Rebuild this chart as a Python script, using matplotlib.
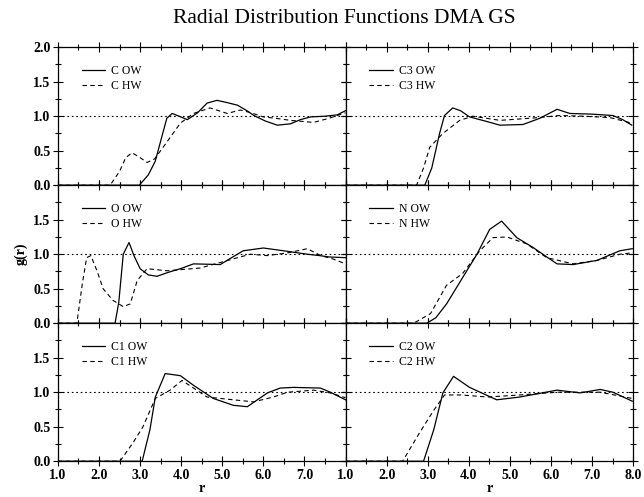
import numpy as np
import matplotlib
matplotlib.use('Agg')
import matplotlib.pyplot as plt
from matplotlib.ticker import MultipleLocator, FixedLocator

plt.rcParams['font.family'] = ['Liberation Serif', 'DejaVu Serif']

# ---- data: (r, g(r)) ----
c_ow_r = [1.0, 2.98, 3.2, 3.37, 3.55, 3.65, 3.78, 3.95, 4.15, 4.4, 4.63, 4.87, 5.1, 5.37, 5.6, 5.77, 6.05, 6.34, 6.66, 6.9, 7.15, 7.5, 7.8, 8.0]
c_ow_g = [0.0, 0.0, 0.15, 0.35, 0.75, 0.97, 1.04, 1.0, 0.95, 1.05, 1.19, 1.23, 1.2, 1.16, 1.08, 1.01, 0.93, 0.87, 0.89, 0.95, 0.99, 1.0, 1.02, 1.08]
c_hw_r = [1.0, 2.27, 2.5, 2.65, 2.8, 2.95, 3.17, 3.35, 3.56, 3.8, 3.98, 4.3, 4.7, 5.12, 5.44, 5.7, 6.0, 6.3, 6.66, 7.22, 7.6, 8.0]
c_hw_g = [0.0, 0.0, 0.2, 0.4, 0.47, 0.42, 0.33, 0.38, 0.55, 0.75, 0.9, 1.04, 1.12, 1.04, 1.09, 1.05, 0.99, 0.97, 0.94, 0.91, 0.97, 1.05]

c3_ow_r = [1.0, 2.93, 3.1, 3.29, 3.41, 3.61, 3.8, 4.02, 4.4, 4.76, 5.32, 5.73, 6.15, 6.46, 7.0, 7.51, 7.75, 7.97]
c3_ow_g = [0.0, 0.0, 0.25, 0.75, 1.01, 1.12, 1.08, 0.99, 0.93, 0.87, 0.88, 0.97, 1.10, 1.04, 1.03, 1.01, 0.95, 0.87]
c3_hw_r = [1.0, 2.73, 2.9, 3.05, 3.37, 3.78, 4.1, 4.76, 5.24, 5.7, 6.2, 6.8, 7.44, 7.97]
c3_hw_g = [0.0, 0.0, 0.25, 0.55, 0.75, 0.94, 1.0, 0.94, 0.96, 0.98, 1.01, 1.0, 0.98, 0.9]

o_ow_r = [1.0, 2.39, 2.48, 2.59, 2.73, 2.85, 3.0, 3.2, 3.41, 3.7, 3.98, 4.3, 4.95, 5.2, 5.51, 6.0, 6.49, 7.07, 7.37, 7.6, 8.0]
o_ow_g = [0.0, 0.0, 0.3, 1.0, 1.17, 0.98, 0.79, 0.7, 0.68, 0.74, 0.79, 0.86, 0.85, 0.94, 1.05, 1.09, 1.05, 1.0, 0.98, 0.96, 0.95]
o_hw_r = [1.0, 1.46, 1.6, 1.7, 1.8, 1.95, 2.1, 2.34, 2.59, 2.76, 2.93, 3.17, 3.66, 4.46, 4.95, 5.68, 6.1, 6.6, 7.07, 7.4, 7.7, 8.0]
o_hw_g = [0.0, 0.0, 0.6, 0.95, 0.98, 0.76, 0.5, 0.33, 0.24, 0.28, 0.62, 0.79, 0.76, 0.8, 0.88, 1.0, 0.98, 1.02, 1.08, 0.98, 0.93, 0.86]

n_ow_r = [1.0, 2.98, 3.2, 3.46, 3.85, 4.2, 4.51, 4.8, 5.17, 5.56, 5.9, 6.15, 6.54, 7.12, 7.68, 7.98]
n_ow_g = [0.0, 0.0, 0.08, 0.28, 0.66, 1.0, 1.36, 1.48, 1.24, 1.1, 0.96, 0.86, 0.85, 0.91, 1.05, 1.08]
n_hw_r = [1.0, 2.66, 3.07, 3.46, 3.85, 4.27, 4.59, 4.93, 5.41, 5.9, 6.54, 7.12, 7.68, 7.98]
n_hw_g = [0.0, 0.0, 0.14, 0.55, 0.72, 1.05, 1.24, 1.25, 1.15, 0.95, 0.86, 0.91, 1.0, 1.02]

c1_ow_r = [1.0, 3.05, 3.24, 3.37, 3.61, 3.98, 4.3, 4.78, 5.27, 5.61, 6.1, 6.41, 6.73, 7.39, 7.63, 8.0]
c1_ow_g = [0.0, 0.0, 0.46, 0.93, 1.27, 1.24, 1.1, 0.91, 0.81, 0.79, 0.99, 1.06, 1.07, 1.06, 1.0, 0.89]
c1_hw_r = [1.0, 2.51, 2.83, 3.07, 3.37, 3.73, 4.02, 4.3, 4.63, 5.27, 5.76, 6.24, 6.59, 7.22, 7.63, 8.0]
c1_hw_g = [0.0, 0.0, 0.27, 0.5, 0.91, 1.03, 1.17, 1.06, 0.93, 0.89, 0.86, 0.93, 1.0, 1.03, 0.99, 0.92]

c2_ow_r = [1.0, 2.9, 3.15, 3.37, 3.63, 4.02, 4.68, 5.24, 6.15, 6.71, 7.2, 7.51, 7.98]
c2_ow_g = [0.0, 0.0, 0.46, 0.99, 1.23, 1.07, 0.89, 0.93, 1.03, 0.99, 1.04, 1.0, 0.87]
c2_hw_r = [1.0, 2.39, 2.8, 3.15, 3.41, 3.83, 4.46, 5.24, 6.15, 7.2, 7.98]
c2_hw_g = [0.0, 0.0, 0.41, 0.74, 0.96, 0.96, 0.93, 0.96, 1.0, 1.0, 0.91]

panels = [
    ('C', c_ow_r, c_ow_g, c_hw_r, c_hw_g),
    ('C3', c3_ow_r, c3_ow_g, c3_hw_r, c3_hw_g),
    ('O', o_ow_r, o_ow_g, o_hw_r, o_hw_g),
    ('N', n_ow_r, n_ow_g, n_hw_r, n_hw_g),
    ('C1', c1_ow_r, c1_ow_g, c1_hw_r, c1_hw_g),
    ('C2', c2_ow_r, c2_ow_g, c2_hw_r, c2_hw_g),
]

fig, axes = plt.subplots(3, 2, figsize=(6.44, 4.97), dpi=100)
fig.subplots_adjust(left=0.090, right=0.983, top=0.905, bottom=0.072, wspace=0, hspace=0)

for k, (name, r1, g1, r2, g2) in enumerate(panels):
    row, col = k // 2, k % 2
    ax = axes[row, col]
    ax.plot(r1, g1, color='black', lw=0.9, label=name + ' OW')
    ax.plot(r2, g2, color='black', lw=0.8, ls=(0, (4, 3)), label=name + ' HW')
    ax.axhline(1.0, color='black', lw=0.8, ls=(0, (1.5, 2.5)))
    ax.set_xlim(1.0, 8.0)
    ax.set_ylim(0.0, 2.0)

    # x ticks: labels only on the bottom row, left column stops at 7.0
    ax.xaxis.set_minor_locator(MultipleLocator(0.5))
    xt = list(range(1, 9))
    ax.xaxis.set_major_locator(FixedLocator(xt))
    if row == 2:
        xl = ['%.1f' % t for t in xt]
        if col == 0:
            xl[-1] = ''
        ax.set_xticklabels(xl, fontweight='bold', fontsize=10)
    else:
        ax.tick_params(labelbottom=False)

    # y ticks: labels only on the left column, 2.0 only on the top row
    yt = [0.0, 0.5, 1.0, 1.5, 2.0]
    ax.yaxis.set_major_locator(FixedLocator(yt))
    ax.yaxis.set_minor_locator(MultipleLocator(0.25))
    if col == 0:
        yl = ['%.1f' % t for t in yt]
        if row > 0:
            yl[-1] = ''
        ax.set_yticklabels(yl, fontweight='bold', fontsize=10)
    else:
        ax.tick_params(labelleft=False)

    ax.tick_params(which='both', direction='inout', top=True, right=True, width=0.8)
    ax.tick_params(which='major', length=7, pad=2)
    ax.tick_params(which='minor', length=4)
    for s in ax.spines.values():
        s.set_linewidth(0.9)
    ax.legend(loc='upper left', frameon=False, fontsize=8.5, handlelength=2.0,
              handletextpad=0.5, labelspacing=0.3, borderaxespad=0.4,
              bbox_to_anchor=(0.05, 0.94))

axes[2, 0].set_xlabel('r', fontsize=10, fontweight='bold', labelpad=0)
axes[2, 1].set_xlabel('r', fontsize=10, fontweight='bold', labelpad=0)
axes[1, 0].set_ylabel('g(r)', fontsize=10, fontweight='bold', labelpad=4)

fig.suptitle('Radial Distribution Functions DMA GS', x=0.535, y=0.982, fontsize=15.5)

fig.savefig('out.png', dpi=100)
